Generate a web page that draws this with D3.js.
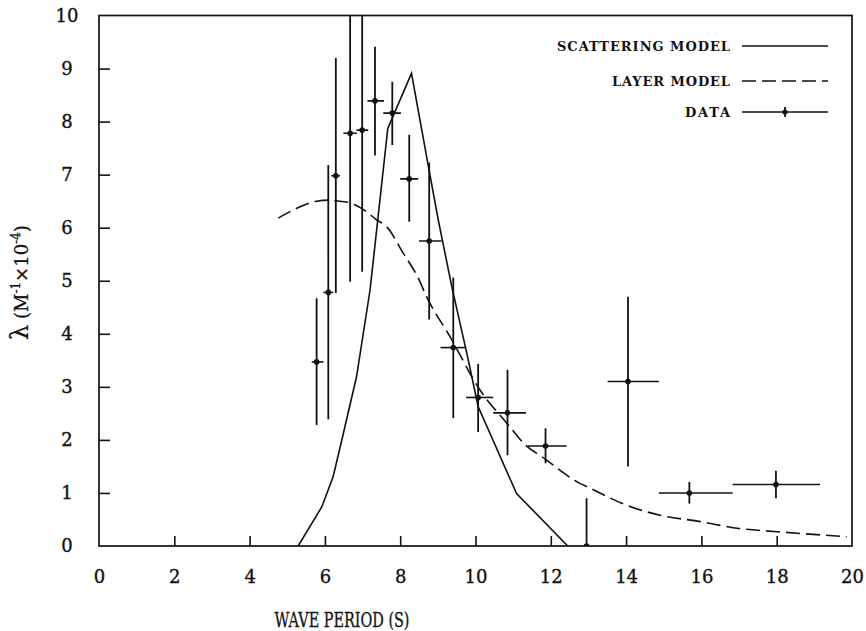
<!DOCTYPE html>
<html>
<head>
<meta charset="utf-8">
<script src="https://cdn.jsdelivr.net/npm/d3@7"></script>
<style>
  html, body { margin: 0; padding: 0; background: #fff; }
  svg { display: block; }
  text { font-family: "DejaVu Serif", "Liberation Serif", serif; fill: #111; }
</style>
</head>
<body>
<svg id="chart" width="866" height="631"></svg>
<script>
// Measured attenuation (data points with error ranges)
const period      = [5.78, 6.09, 6.29, 6.67, 6.99, 7.33, 7.79, 8.24, 8.77, 9.41, 10.07, 10.85, 11.86, 12.95, 14.05, 15.68, 17.98];
const lambda      = [3.47, 4.78, 6.98, 7.78, 7.84, 8.39, 8.16, 6.92, 5.75, 3.74, 2.80, 2.51, 1.885, 0.0, 3.10, 1.00, 1.16];
const periodLow   = [5.65, 5.96, 6.17, 6.49, 6.84, 7.13, 7.55, 8.00, 8.50, 9.07, 9.75, 10.47, 11.39, 12.95, 13.51, 14.87, 16.83];
const periodHigh  = [5.96, 6.22, 6.40, 6.85, 7.15, 7.57, 8.02, 8.48, 9.10, 9.75, 10.47, 11.34, 12.42, 12.95, 14.87, 16.83, 19.15];
const lambdaLow   = [2.28, 2.39, 4.77, 4.98, 5.17, 7.36, 7.56, 6.11, 4.27, 2.41, 2.15, 1.71, 1.56, 0.0, 1.50, 0.80, 0.90];
const lambdaHigh  = [4.67, 7.18, 9.20, 10.58, 10.50, 9.41, 8.75, 7.75, 7.23, 5.06, 3.43, 3.32, 2.22, 0.90, 4.70, 1.21, 1.42];

// Scattering model curve
const scatPeriod  = [5.29, 5.92, 6.22, 6.49, 6.84, 7.20, 7.67, 8.30, 8.75, 9.01, 9.37, 9.77, 10.07, 11.09, 12.45];
const scatLambda  = [0.0, 0.74, 1.31, 2.12, 3.19, 4.83, 7.87, 8.91, 7.15, 6.15, 4.89, 3.63, 2.63, 0.99, 0.0];

// Layer model curve
const layerPeriod = [4.76, 5.30, 5.78, 6.10, 6.40, 6.67, 7.11, 7.37, 7.64, 8.08, 8.48, 8.70, 9.32, 10.12, 10.85, 11.30, 11.87, 12.24, 12.60, 13.13, 14.01, 14.90, 15.97, 17.00, 18.00, 19.86];
const layerLambda = [6.18, 6.38, 6.50, 6.52, 6.50, 6.47, 6.30, 6.15, 6.02, 5.52, 5.05, 4.70, 3.95, 2.94, 2.30, 1.92, 1.63, 1.43, 1.25, 1.06, 0.77, 0.58, 0.46, 0.33, 0.27, 0.175];

const xTicks = [0, 2, 4, 6, 8, 10, 12, 14, 16, 18, 20];
const yTicks = [0, 1, 2, 3, 4, 5, 6, 7, 8, 9, 10];

const legendLabels = ["SCATTERING MODEL", "LAYER MODEL", "DATA"];

const ink = "#111";
const svg = d3.select("#chart");

const plot = { left: 99, right: 852, top: 15.5, bottom: 546 };
const x = d3.scaleLinear().domain([0, 20]).range([plot.left, plot.right]);
const y = d3.scaleLinear().domain([0, 10]).range([plot.bottom, plot.top]);

svg.append("defs").append("clipPath").attr("id", "plot-clip")
  .append("rect")
  .attr("x", plot.left).attr("y", plot.top)
  .attr("width", plot.right - plot.left).attr("height", plot.bottom - plot.top);

// Inward ticks and labels, drawn with d3 axes
const xAxis = d3.axisBottom(x).tickValues(xTicks).tickSizeInner(-10).tickSizeOuter(0).tickPadding(24).tickFormat(d3.format("d"));
const gx = svg.append("g").attr("transform", `translate(0,${plot.bottom})`).call(xAxis);
gx.select(".domain").remove();
gx.selectAll(".tick line").attr("stroke", ink).attr("stroke-width", 1.6)
  .filter(d => d === 0 || d === 20).remove();
gx.selectAll(".tick text").attr("font-size", 18).attr("fill", ink)
  .attr("stroke", ink).attr("stroke-width", 0.35)
  .attr("font-family", "DejaVu Serif, serif");

const yAxis = d3.axisLeft(y).tickValues(yTicks).tickSizeInner(-11).tickSizeOuter(0).tickPadding(0).tickFormat(d3.format("d"));
const gy = svg.append("g").attr("transform", `translate(${plot.left},0)`).call(yAxis);
gy.select(".domain").remove();
gy.selectAll(".tick line").attr("stroke", ink).attr("stroke-width", 1.6)
  .filter(d => d === 0 || d === 10).remove();
gy.selectAll(".tick text").attr("font-size", 18).attr("fill", ink)
  .attr("stroke", ink).attr("stroke-width", 0.35)
  .attr("font-family", "DejaVu Serif, serif")
  .attr("text-anchor", "middle").attr("x", 67 - plot.left);

// Frame
svg.append("rect")
  .attr("x", plot.left).attr("y", plot.top)
  .attr("width", plot.right - plot.left).attr("height", plot.bottom - plot.top)
  .attr("fill", "none").attr("stroke", ink).attr("stroke-width", 1.7);

const g = svg.append("g").attr("clip-path", "url(#plot-clip)");

// Scattering model
const scat = scatPeriod.map((p, i) => [p, scatLambda[i]]);
g.append("path")
  .attr("d", d3.line().x(d => x(d[0])).y(d => y(d[1]))(scat))
  .attr("fill", "none").attr("stroke", ink).attr("stroke-width", 1.6);

// Layer model
const layer = layerPeriod.map((p, i) => [p, layerLambda[i]]);
g.append("path")
  .attr("d", d3.line().curve(d3.curveMonotoneX).x(d => x(d[0])).y(d => y(d[1]))(layer))
  .attr("fill", "none").attr("stroke", ink).attr("stroke-width", 1.6)
  .attr("stroke-dasharray", "14,6");

// Data with error bars
const data = period.map((p, i) => ({
  p, l: lambda[i], pLo: periodLow[i], pHi: periodHigh[i], lLo: lambdaLow[i], lHi: lambdaHigh[i]
}));
const pts = g.append("g").selectAll("g").data(data).join("g");
pts.append("line")
  .attr("x1", d => x(d.p)).attr("x2", d => x(d.p))
  .attr("y1", d => y(d.lLo)).attr("y2", d => y(d.lHi))
  .attr("stroke", ink).attr("stroke-width", 1.8);
pts.filter(d => d.pHi > d.pLo).append("line")
  .attr("x1", d => x(d.pLo)).attr("x2", d => x(d.pHi))
  .attr("y1", d => y(d.l)).attr("y2", d => y(d.l))
  .attr("stroke", ink).attr("stroke-width", 1.6);
pts.append("circle")
  .attr("cx", d => x(d.p)).attr("cy", d => y(d.l)).attr("r", 2.8)
  .attr("fill", ink);

// Legend
const legY = [46, 81, 112];
const legendWidths = [173, 118, 45];
const leg = svg.append("g");
legendLabels.forEach((label, i) => {
  leg.append("text")
    .attr("x", 730).attr("y", legY[i] + 5)
    .attr("text-anchor", "end")
    .attr("font-size", 13).attr("font-weight", "bold")
    .attr("textLength", legendWidths[i]).attr("lengthAdjust", "spacing")
    .text(label);
  const ln = leg.append("line")
    .attr("x1", 742).attr("x2", 828).attr("y1", legY[i]).attr("y2", legY[i])
    .attr("stroke", ink).attr("stroke-width", 1.6);
  if (i === 1) ln.attr("stroke-dasharray", "14,6");
});
leg.append("line").attr("x1", 785).attr("x2", 785).attr("y1", legY[2] - 5).attr("y2", legY[2] + 5)
  .attr("stroke", ink).attr("stroke-width", 1.8);
leg.append("circle").attr("cx", 785).attr("cy", legY[2]).attr("r", 2.6).attr("fill", ink);

// Axis titles
svg.append("text")
  .attr("x", 342).attr("y", 627)
  .attr("text-anchor", "middle")
  .attr("font-size", 20)
  .attr("stroke", ink).attr("stroke-width", 0.3)
  .attr("textLength", 135).attr("lengthAdjust", "spacingAndGlyphs")
  .text("WAVE PERIOD (S)");

const yt = svg.append("text")
  .attr("transform", "translate(28,340) rotate(-90)")
  .attr("text-anchor", "start")
  .attr("font-size", 18)
  .attr("stroke", ink).attr("stroke-width", 0.3);
yt.append("tspan").attr("font-size", 24).text("λ");
yt.append("tspan").text(" (M");
yt.append("tspan").attr("font-size", 12).attr("dy", -8).text("-1");
yt.append("tspan").attr("dy", 8).text("×10");
yt.append("tspan").attr("font-size", 12).attr("dy", -8).text("-4");
yt.append("tspan").attr("dy", 8).text(")");
</script>
</body>
</html>
